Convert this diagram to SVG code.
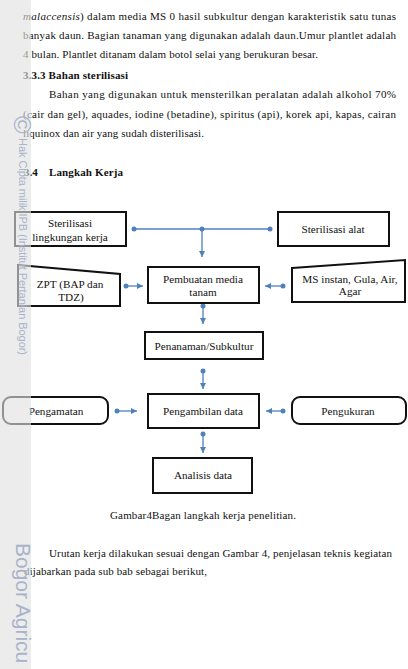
<svg xmlns="http://www.w3.org/2000/svg" width="408" height="669" viewBox="0 0 408 669">
<style>
.t{font-family:"Liberation Serif","Times New Roman",serif;font-size:11px;fill:#111}
.b{font-weight:bold}
.n{font-family:"Liberation Serif","Times New Roman",serif;font-size:11.2px;fill:#111;text-anchor:middle}
.box{fill:#fff;stroke:#111;stroke-width:2}
.c{stroke:#4f81bd;stroke-width:1.3;fill:none}
.wm{font-family:"Liberation Sans",Arial,sans-serif;fill:#a9b3c9}
</style>
<defs>
<marker id="arr" markerUnits="userSpaceOnUse" markerWidth="7" markerHeight="7" refX="6" refY="3" orient="auto"><path d="M0,0 L6,3 L0,6 z" fill="#4f81bd"/></marker>
<marker id="dot" markerUnits="userSpaceOnUse" markerWidth="6" markerHeight="6" refX="3" refY="3" orient="auto"><circle cx="3" cy="3" r="2.5" fill="#4f81bd"/></marker>
</defs>
<rect width="408" height="669" fill="#fff"/>

<g id="body-text">
<text class="t" x="23" y="20" textLength="373" lengthAdjust="spacing"><tspan font-style="italic">malaccensis</tspan>) dalam media MS 0 hasil subkultur dengan karakteristik satu tunas</text>
<text class="t" x="23" y="39" textLength="373" lengthAdjust="spacing">banyak daun. Bagian tanaman yang digunakan adalah daun.Umur plantlet adalah</text>
<text class="t" x="23" y="58" textLength="295" lengthAdjust="spacing">4 bulan. Plantlet ditanam dalam botol selai yang berukuran besar.</text>
<text class="t b" x="23" y="79" textLength="105" lengthAdjust="spacing">3.3.3 Bahan sterilisasi</text>
<text class="t" x="49" y="98" textLength="347" lengthAdjust="spacing">Bahan yang digunakan untuk mensterilkan peralatan adalah alkohol 70%</text>
<text class="t" x="23" y="118" textLength="373" lengthAdjust="spacing">(cair dan gel), aquades, iodine (betadine), spiritus (api), korek api, kapas, cairan</text>
<text class="t" x="23" y="137" textLength="181" lengthAdjust="spacing">liquinox dan air yang sudah disterilisasi.</text>
<text class="t b" x="24" y="176">3.4</text>
<text class="t b" x="49" y="176" textLength="74" lengthAdjust="spacing">Langkah Kerja</text>
<text class="t" x="110" y="519" textLength="186" lengthAdjust="spacing">Gambar4Bagan langkah kerja penelitian.</text>
<text class="t" x="49" y="557" textLength="343" lengthAdjust="spacing">Urutan kerja dilakukan sesuai dengan Gambar 4, penjelasan teknis kegiatan</text>
<text class="t" x="24" y="575" textLength="183" lengthAdjust="spacing">dijabarkan pada sub bab sebagai berikut,</text>
</g>

<g id="connectors">
<line class="c" x1="134" y1="229" x2="270" y2="229" marker-start="url(#dot)" marker-end="url(#dot)"/>
<circle cx="202" cy="229" r="2.5" fill="#4f81bd"/>
<line class="c" x1="202" y1="229" x2="202" y2="257" marker-end="url(#arr)"/>
<line class="c" x1="126" y1="286" x2="143" y2="286" marker-start="url(#dot)" marker-end="url(#arr)"/>
<line class="c" x1="283" y1="286" x2="265" y2="286" marker-start="url(#dot)" marker-end="url(#arr)"/>
<line class="c" x1="203" y1="306" x2="203" y2="324" marker-start="url(#dot)" marker-end="url(#arr)"/>
<line class="c" x1="203" y1="371" x2="203" y2="389" marker-start="url(#dot)" marker-end="url(#arr)"/>
<line class="c" x1="117" y1="411" x2="137" y2="411" marker-start="url(#dot)" marker-end="url(#arr)"/>
<line class="c" x1="283" y1="411" x2="266" y2="411" marker-start="url(#dot)" marker-end="url(#arr)"/>
<line class="c" x1="203" y1="434" x2="203" y2="453" marker-start="url(#dot)" marker-end="url(#arr)"/>
</g>

<g id="n-steril-kerja">
<rect class="box" x="15" y="212" width="111" height="34"/>
<text class="n" x="70" y="227">Sterilisasi</text>
<text class="n" x="70" y="241">lingkungan kerja</text>
</g>
<g id="n-steril-alat">
<rect class="box" x="278" y="212" width="111" height="34"/>
<text class="n" x="333" y="233">Sterilisasi alat</text>
</g>
<g id="n-zpt">
<path class="box" d="M18,265 L120,274 L120,306 L18,306 Z"/>
<text class="n" x="70" y="288">ZPT (BAP dan</text>
<text class="n" x="71" y="301">TDZ)</text>
</g>
<g id="n-pembuatan">
<rect class="box" x="148" y="267" width="111" height="36"/>
<text class="n" x="203" y="283">Pembuatan media</text>
<text class="n" x="203" y="296">tanam</text>
</g>
<g id="n-ms">
<path class="box" d="M292,268 L405,260 L405,302 L292,302 Z"/>
<text class="n" x="350" y="283">MS instan, Gula, Air,</text>
<text class="n" x="350" y="295">Agar</text>
</g>
<g id="n-penanaman">
<rect class="box" x="145" y="332" width="118" height="27"/>
<text class="n" x="204" y="350">Penanaman/Subkultur</text>
</g>
<g id="n-pengamatan">
<rect class="box" x="3" y="397" width="105" height="27" rx="8"/>
<text class="n" x="56" y="415">Pengamatan</text>
</g>
<g id="n-pengambilan">
<rect class="box" x="148" y="394" width="111" height="34"/>
<text class="n" x="203" y="415">Pengambilan data</text>
</g>
<g id="n-pengukuran">
<rect class="box" x="292" y="397" width="114" height="27" rx="8"/>
<text class="n" x="348" y="415">Pengukuran</text>
</g>
<g id="n-analisis">
<rect class="box" x="153" y="458" width="99" height="35"/>
<text class="n" x="203" y="479">Analisis data</text>
</g>

<g id="watermark">
<rect x="0" y="0" width="31" height="669" fill="#e1e1e1" opacity="0.62"/>
<text class="wm" font-size="24" transform="translate(14,116) rotate(90)">©</text>
<text class="wm" font-size="11" transform="translate(19,138) rotate(90)" textLength="217" lengthAdjust="spacing">Hak Cipta milik IPB (Institut Pertanian Bogor)</text>
<text class="wm" font-size="21" transform="translate(16,543) rotate(90)">Bogor Agricu</text>
</g>
</svg>
